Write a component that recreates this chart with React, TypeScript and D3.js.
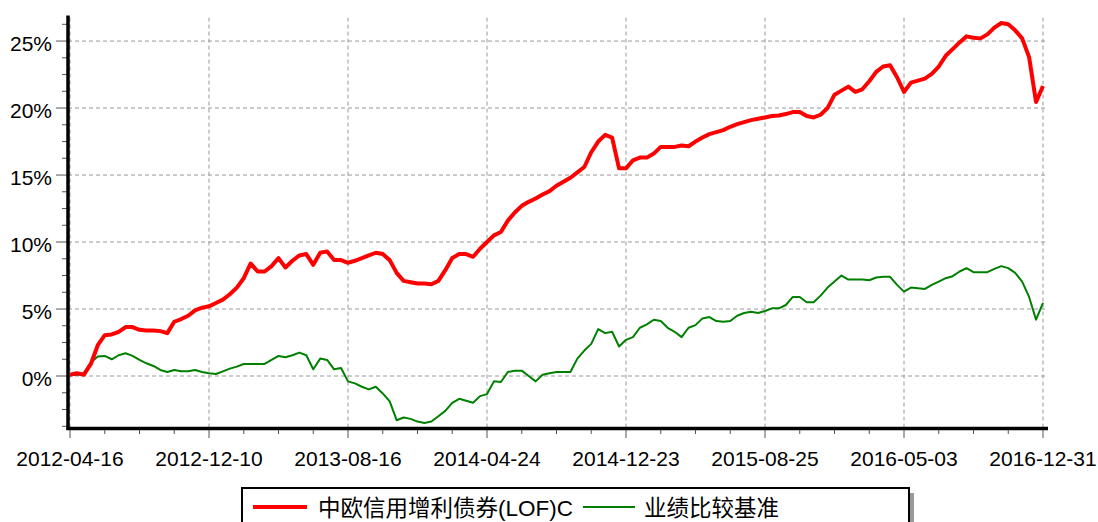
import { useEffect, useRef } from 'react'
import * as d3 from 'd3'

// tick labels along the x axis (one every 20 samples)
const dateLabels = [
	'2012-04-16',
	'2012-12-10',
	'2013-08-16',
	'2014-04-24',
	'2014-12-23',
	'2015-08-25',
	'2016-05-03',
	'2016-12-31',
]

const seriesNames = ['中欧信用增利债券(LOF)C', '业绩比较基准']

// cumulative return (%), fund
const fundValues = [
	0.1, 0.2, 0.1, 0.9, 2.3, 3.05, 3.1, 3.3, 3.65, 3.65,
	3.45, 3.4, 3.4, 3.35, 3.2, 4.05, 4.25, 4.5, 4.9, 5.1,
	5.2, 5.45, 5.7, 6.1, 6.6, 7.3, 8.4, 7.8, 7.8, 8.2,
	8.8, 8.1, 8.6, 9.0, 9.1, 8.3, 9.2, 9.3, 8.65, 8.65,
	8.45, 8.6, 8.8, 9.0, 9.2, 9.1, 8.65, 7.7, 7.1, 7.0,
	6.9, 6.9, 6.85, 7.1, 7.9, 8.8, 9.1, 9.1, 8.9, 9.5,
	10.0, 10.5, 10.75, 11.6, 12.2, 12.7, 13.0, 13.25, 13.55, 13.8,
	14.2, 14.5, 14.8, 15.2, 15.6, 16.7, 17.5, 18.0, 17.8, 15.5,
	15.5, 16.1, 16.3, 16.3, 16.6, 17.1, 17.1, 17.1, 17.2, 17.15,
	17.5, 17.8, 18.05, 18.2, 18.35, 18.6, 18.8, 18.95, 19.1, 19.2,
	19.3, 19.4, 19.45, 19.55, 19.7, 19.7, 19.4, 19.3, 19.5, 20.0,
	21.0, 21.3, 21.6, 21.2, 21.4, 22.0, 22.7, 23.1, 23.2, 22.3,
	21.2, 21.9, 22.05, 22.2, 22.55, 23.1, 23.9, 24.4, 24.9, 25.35,
	25.25, 25.2, 25.5, 26.0, 26.35, 26.25, 25.8, 25.2, 23.8, 20.45,
	21.65,
]

// cumulative return (%), benchmark
const benchValues = [
	0.05, 0.1, 0.2, 1.0, 1.45, 1.5, 1.25, 1.55, 1.7, 1.5,
	1.2, 0.95, 0.75, 0.45, 0.3, 0.45, 0.35, 0.35, 0.45, 0.3,
	0.2, 0.15, 0.35, 0.55, 0.7, 0.9, 0.9, 0.9, 0.9, 1.2,
	1.5, 1.4, 1.55, 1.75, 1.55, 0.5, 1.3, 1.2, 0.5, 0.6,
	-0.4, -0.55, -0.8, -1.0, -0.8, -1.3, -1.9, -3.3, -3.1, -3.2,
	-3.4, -3.5, -3.4, -3.0, -2.6, -2.0, -1.7, -1.85, -2.0, -1.5,
	-1.35, -0.4, -0.45, 0.3, 0.4, 0.4, 0.0, -0.4, 0.1, 0.2,
	0.3, 0.3, 0.3, 1.3, 1.9, 2.4, 3.5, 3.2, 3.3, 2.2,
	2.7, 2.9, 3.6, 3.85, 4.2, 4.1, 3.6, 3.3, 2.9, 3.6,
	3.8, 4.3, 4.4, 4.1, 4.05, 4.1, 4.5, 4.7, 4.8, 4.7,
	4.85, 5.05, 5.05, 5.3, 5.9, 5.9, 5.5, 5.5, 6.0, 6.6,
	7.05, 7.5, 7.2, 7.2, 7.2, 7.15, 7.35, 7.4, 7.4, 6.8,
	6.3, 6.6, 6.55, 6.5, 6.8, 7.05, 7.3, 7.45, 7.8, 8.05,
	7.75, 7.75, 7.75, 8.0, 8.2, 8.05, 7.7, 7.05, 5.9, 4.2,
	5.45,
]

const yTickValues = [0, 5, 10, 15, 20, 25]

const App = () => {
	const svgRef = useRef(null)

	useEffect(() => {
		const width = 1098
		const height = 522
		const font = '"Liberation Sans", Arial, "Noto Sans CJK SC", sans-serif'

		d3.select(svgRef.current).selectAll('*').remove()

		const svg = d3
			.select(svgRef.current)
			.attr('width', width)
			.attr('height', height)
			.attr('viewBox', `0 0 ${width} ${height}`)

		const step = 20
		const n = fundValues.length - 1

		const x = d3.scaleLinear().domain([0, n]).range([70, 1043])
		const y = d3.scaleLinear().domain([-4, 26.9]).range([429.6, 15.6])

		const left = 68
		const right = 1047
		const top = y(26.9)
		const bottom = 428.5

		// grid
		const grid = svg.append('g').attr('stroke', '#999').attr('stroke-dasharray', '4,3')
		grid
			.selectAll('line.h')
			.data(yTickValues)
			.join('line')
			.attr('x1', left)
			.attr('x2', right)
			.attr('y1', (d) => y(d))
			.attr('y2', (d) => y(d))
		grid
			.selectAll('line.v')
			.data(dateLabels)
			.join('line')
			.attr('x1', (d, i) => x(i * step))
			.attr('x2', (d, i) => x(i * step))
			.attr('y1', top + 2)
			.attr('y2', bottom)

		// y ticks
		const minorY = d3.range(-3.75, 26.5, 1.25)
		svg
			.append('g')
			.selectAll('line')
			.data(minorY)
			.join('line')
			.attr('x1', (d) => (Math.abs(d % 5) < 0.01 ? 56 : 62))
			.attr('x2', left)
			.attr('y1', (d) => y(d))
			.attr('y2', (d) => y(d))
			.attr('stroke', '#555')
			.attr('stroke-width', 1)

		svg
			.append('g')
			.selectAll('text')
			.data(yTickValues)
			.join('text')
			.attr('x', 52)
			.attr('y', (d) => y(d) + 9.5)
			.attr('text-anchor', 'end')
			.style('font-family', font)
			.style('font-size', '21px')
			.text((d) => `${d}%`)

		// x ticks
		const minorX = d3.range(0, n + 1, 5)
		svg
			.append('g')
			.selectAll('line')
			.data(minorX)
			.join('line')
			.attr('x1', (d) => x(d))
			.attr('x2', (d) => x(d))
			.attr('y1', bottom)
			.attr('y2', (d) => (d % step === 0 ? 438 : 434))
			.attr('stroke', '#555')

		svg
			.append('g')
			.selectAll('text')
			.data(dateLabels)
			.join('text')
			.attr('x', (d, i) => x(i * step))
			.attr('y', 466)
			.attr('text-anchor', 'middle')
			.style('font-family', font)
			.style('font-size', '21px')
			.text((d) => d)

		// lines
		const line = d3
			.line()
			.x((d, i) => x(i))
			.y((d) => y(d))

		svg
			.append('path')
			.datum(benchValues)
			.attr('d', line)
			.attr('fill', 'none')
			.attr('stroke', '#008000')
			.attr('stroke-width', 2)
			.attr('stroke-linejoin', 'round')

		svg
			.append('path')
			.datum(fundValues)
			.attr('d', line)
			.attr('fill', 'none')
			.attr('stroke', '#ff0000')
			.attr('stroke-width', 4)
			.attr('stroke-linejoin', 'round')

		// axes
		svg
			.append('line')
			.attr('x1', left)
			.attr('x2', left)
			.attr('y1', top)
			.attr('y2', bottom + 1.5)
			.attr('stroke', '#000')
			.attr('stroke-width', 3.5)
		svg
			.append('line')
			.attr('x1', left - 1.5)
			.attr('x2', 1048)
			.attr('y1', bottom)
			.attr('y2', bottom)
			.attr('stroke', '#000')
			.attr('stroke-width', 3.5)

		// legend
		const lg = svg.append('g')
		lg.append('rect')
			.attr('x', 247)
			.attr('y', 493)
			.attr('width', 667)
			.attr('height', 50)
			.attr('fill', '#999')
		lg.append('rect')
			.attr('x', 242)
			.attr('y', 488)
			.attr('width', 667)
			.attr('height', 50)
			.attr('fill', '#fff')
			.attr('stroke', '#000')
			.attr('stroke-width', 2)

		const legendItems = [
			{ name: seriesNames[0], color: '#ff0000', w: 4, x0: 253, x1: 307, tx: 318 },
			{ name: seriesNames[1], color: '#008000', w: 2, x0: 583, x1: 635, tx: 644 },
		]
		legendItems.forEach((it) => {
			lg.append('line')
				.attr('x1', it.x0)
				.attr('x2', it.x1)
				.attr('y1', 507)
				.attr('y2', 507)
				.attr('stroke', it.color)
				.attr('stroke-width', it.w)
			lg.append('text')
				.attr('x', it.tx)
				.attr('y', 516)
				.style('font-family', font)
				.style('font-size', '22.5px')
				.text(it.name)
		})
	}, [])

	return (
		<svg
			ref={svgRef}
			style={{ position: 'absolute', left: 0, top: 0, display: 'block', background: '#fff' }}
		></svg>
	)
}

export default App
